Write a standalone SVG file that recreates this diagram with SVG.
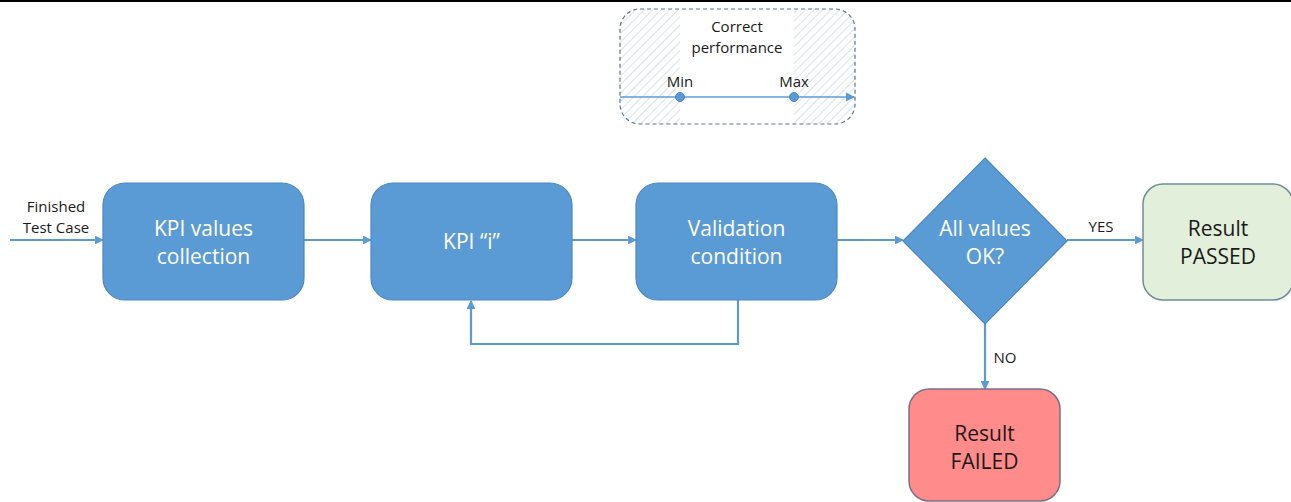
<svg xmlns="http://www.w3.org/2000/svg" width="1291" height="502" viewBox="0 0 1291 502">
  <defs>
    <style>
      .proc { fill: #5b9bd5; stroke: #4a87c0; stroke-width: 1.2; }
      .pass { fill: #e2efda; stroke: #6f8d9c; stroke-width: 1.5; }
      .fail { fill: #ff8b8b; stroke: #7d6f86; stroke-width: 1.5; }
      .t-w { font-family: "Open Sans", "Liberation Sans", sans-serif; font-size: 21px; fill: #ffffff; text-anchor: middle; }
      .t-d { font-family: "Open Sans", "Liberation Sans", sans-serif; font-size: 21px; fill: #1a1a1a; text-anchor: middle; }
      .t-s { font-family: "Open Sans", "Liberation Sans", sans-serif; font-size: 15px; fill: #1a1a1a; text-anchor: middle; }
      .flow { fill: none; stroke: #5b9bd5; stroke-width: 2.2; }
      .scale { fill: none; stroke: #5b9bd5; stroke-width: 1.3; }
    </style>
    <marker id="arrow" viewBox="0 0 10 10" refX="9" refY="5" markerWidth="4" markerHeight="4" orient="auto" markerUnits="strokeWidth">
      <path d="M0,0 L10,5 L0,10 z" fill="#5b9bd5"/>
    </marker>
    <marker id="arrow-thin" viewBox="0 0 10 10" refX="9" refY="5" markerWidth="7" markerHeight="7" orient="auto" markerUnits="strokeWidth">
      <path d="M0,0 L10,5 L0,10 z" fill="#5b9bd5"/>
    </marker>
    <pattern id="hatch" width="6" height="6" patternUnits="userSpaceOnUse" patternTransform="rotate(45)">
      <line x1="0" y1="0" x2="0" y2="6" stroke="#cfdae6" stroke-width="1.6"/>
    </pattern>
    <clipPath id="range-clip">
      <rect x="620" y="9" width="235" height="115" rx="20" ry="20"/>
    </clipPath>
  </defs>

  <!-- top rule -->
  <rect x="0" y="0" width="1291" height="2" fill="#000000"/>

  <!-- acceptance range legend -->
  <g id="range">
    <g clip-path="url(#range-clip)">
      <rect x="620" y="9" width="60" height="115" fill="url(#hatch)"/>
      <rect x="794" y="9" width="61" height="115" fill="url(#hatch)"/>
    </g>
    <rect x="620" y="9" width="235" height="115" rx="20" ry="20" fill="none" stroke="#5d7489" stroke-width="1.2" stroke-dasharray="4 3"/>
    <text class="t-s" x="737" y="32">Correct</text>
    <text class="t-s" x="737" y="53">performance</text>
    <line class="scale" x1="620" y1="97" x2="854" y2="97" marker-end="url(#arrow-thin)"/>
    <circle cx="680" cy="97" r="4.5" fill="#5b9bd5" stroke="#4a87c0" stroke-width="1"/>
    <circle cx="794" cy="97" r="4.5" fill="#5b9bd5" stroke="#4a87c0" stroke-width="1"/>
    <text class="t-s" x="680" y="87">Min</text>
    <text class="t-s" x="794" y="87">Max</text>
  </g>

  <!-- connectors -->
  <g id="connectors">
    <line class="flow" x1="10" y1="240" x2="103" y2="240" marker-end="url(#arrow)"/>
    <line class="flow" x1="304" y1="240" x2="371" y2="240" marker-end="url(#arrow)"/>
    <line class="flow" x1="572" y1="240" x2="636" y2="240" marker-end="url(#arrow)"/>
    <line class="flow" x1="837" y1="240" x2="903" y2="240" marker-end="url(#arrow)"/>
    <line class="flow" x1="1067" y1="240" x2="1143" y2="240" marker-end="url(#arrow)"/>
    <line class="flow" x1="985" y1="324" x2="985" y2="389" marker-end="url(#arrow)"/>
    <polyline class="flow" points="738,300 738,344 471,344 471,301" marker-end="url(#arrow)"/>
    <text class="t-s" x="56" y="212">Finished</text>
    <text class="t-s" x="56" y="233">Test Case</text>
    <text class="t-s" x="1101" y="232">YES</text>
    <text class="t-s" x="1005" y="363">NO</text>
  </g>

  <g id="kpi-collection">
    <rect class="proc" x="103" y="183" width="201" height="117" rx="22" ry="22"/>
    <text class="t-w" x="203.5" y="236">KPI values</text>
    <text class="t-w" x="203.5" y="264">collection</text>
  </g>

  <g id="kpi-i">
    <rect class="proc" x="371" y="183" width="201" height="117" rx="22" ry="22"/>
    <text class="t-w" x="471.5" y="249">KPI “i”</text>
  </g>

  <g id="validation">
    <rect class="proc" x="636" y="183" width="201" height="117" rx="22" ry="22"/>
    <text class="t-w" x="736.5" y="236">Validation</text>
    <text class="t-w" x="736.5" y="264">condition</text>
  </g>

  <g id="decision">
    <polygon class="proc" points="985,158 1067,241 985,324 903,241"/>
    <text class="t-w" x="985" y="236">All values</text>
    <text class="t-w" x="985" y="264">OK?</text>
  </g>

  <g id="result-passed">
    <rect class="pass" x="1143" y="184" width="150" height="116" rx="20" ry="20"/>
    <text class="t-d" x="1218" y="236">Result</text>
    <text class="t-d" x="1218" y="264">PASSED</text>
  </g>

  <g id="result-failed">
    <rect class="fail" x="909" y="389" width="151" height="112" rx="20" ry="20"/>
    <text class="t-d" x="984.5" y="441">Result</text>
    <text class="t-d" x="984.5" y="469">FAILED</text>
  </g>
</svg>
